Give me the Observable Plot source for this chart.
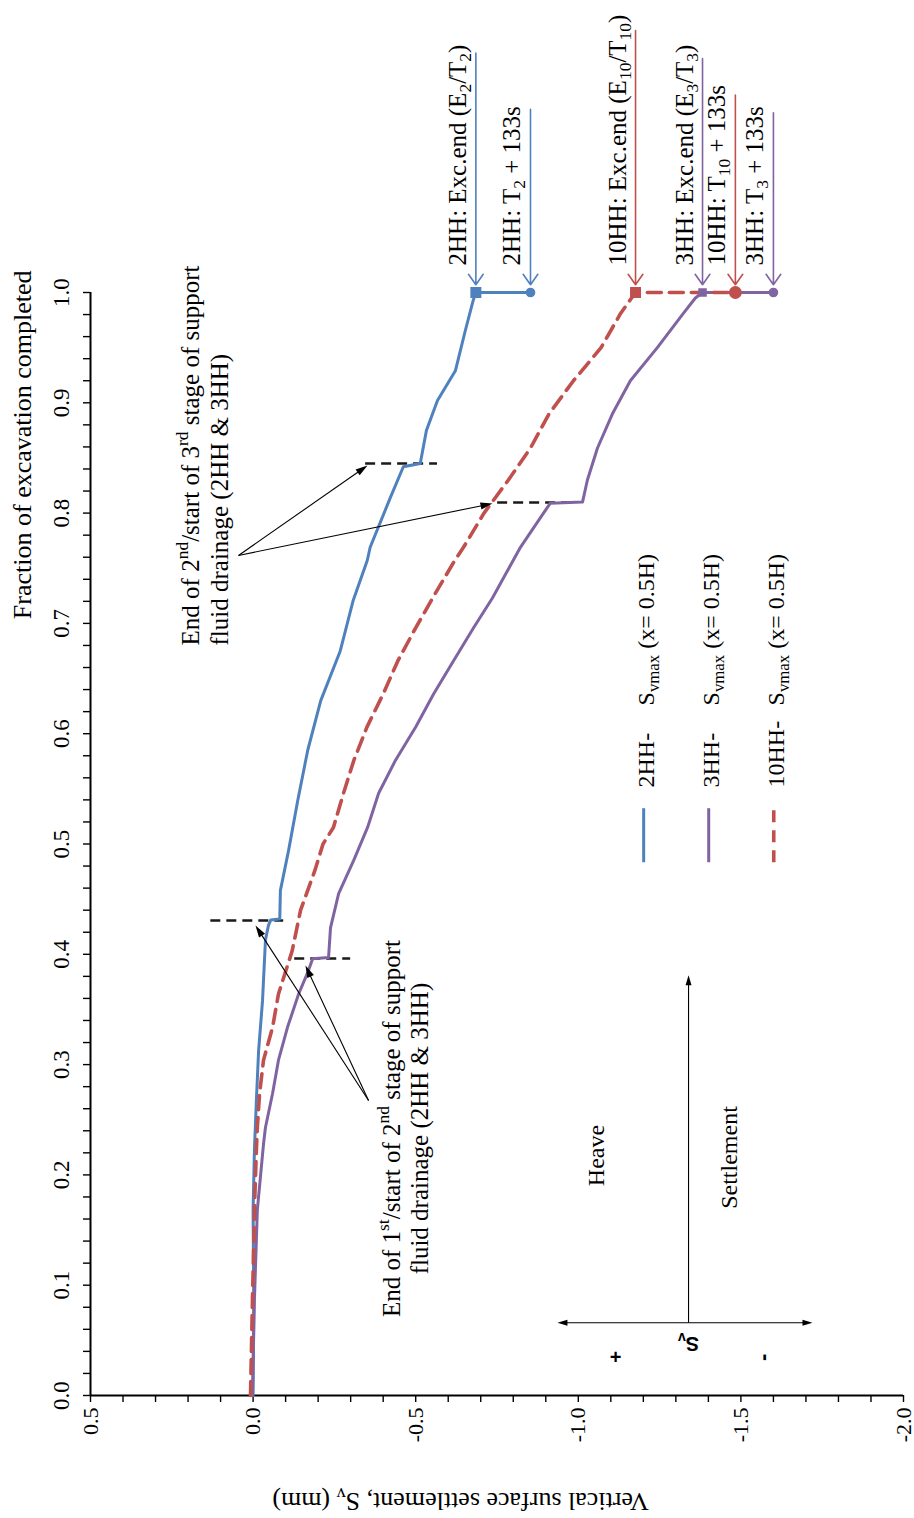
<!DOCTYPE html>
<html><head><meta charset="utf-8">
<script src="https://cdn.jsdelivr.net/npm/d3@7"></script>
<script src="https://cdn.jsdelivr.net/npm/@observablehq/plot@0.6"></script>
<style>
html,body{margin:0;padding:0;background:#fff;}
#chart{width:914px;height:1518px;overflow:hidden;}
</style></head>
<body><div id="chart"></div>
<script>
// ---------------- data ----------------
// fraction of excavation completed / vertical surface settlement Sv (mm), x = 0.5H
const frac2HH = [0.000,0.086,0.168,0.222,0.267,0.313,0.358,0.413,0.426,0.431,0.432,0.458,0.494,0.539,0.585,0.630,0.675,0.721,0.757,0.769,0.814,0.842,0.845,0.875,0.902,0.929,0.966,0.993];
const sv2HH   = [0.000,-0.002,0.000,-0.004,-0.010,-0.017,-0.029,-0.038,-0.047,-0.054,-0.082,-0.084,-0.109,-0.137,-0.168,-0.208,-0.268,-0.308,-0.351,-0.360,-0.422,-0.462,-0.514,-0.533,-0.567,-0.622,-0.653,-0.677];
const frac3HH = [0.000,0.086,0.168,0.228,0.243,0.274,0.304,0.334,0.364,0.385,0.396,0.397,0.424,0.455,0.485,0.515,0.546,0.576,0.606,0.636,0.666,0.696,0.723,0.769,0.800,0.809,0.810,0.830,0.859,0.890,0.920,0.950,0.981,0.995];
const sv3HH   = [0.002,-0.004,-0.013,-0.032,-0.038,-0.060,-0.078,-0.106,-0.140,-0.170,-0.183,-0.232,-0.238,-0.263,-0.309,-0.352,-0.386,-0.438,-0.500,-0.555,-0.616,-0.678,-0.736,-0.822,-0.893,-0.914,-1.013,-1.028,-1.059,-1.105,-1.160,-1.243,-1.323,-1.360];
const frac10HH = [0.000,0.086,0.177,0.222,0.243,0.274,0.304,0.334,0.364,0.403,0.440,0.476,0.500,0.515,0.546,0.576,0.606,0.636,0.666,0.696,0.727,0.757,0.769,0.800,0.830,0.859,0.890,0.920,0.950,0.981];
const sv10HH   = [0.008,0.002,-0.005,-0.010,-0.013,-0.020,-0.032,-0.060,-0.078,-0.120,-0.146,-0.190,-0.215,-0.247,-0.278,-0.310,-0.350,-0.400,-0.445,-0.500,-0.560,-0.620,-0.647,-0.710,-0.785,-0.853,-0.910,-0.985,-1.070,-1.130];

const seriesNames  = ["2HH-", "3HH-", "10HH-"];
const seriesColors = ["#4f81bd", "#8064a2", "#c0504d"];
const excEnd  = [-0.685, -1.382, -1.176];   // Sv at excavation end (E/T), fraction = 1
const plus133 = [-0.853, -1.600, -1.483];   // Sv at T + 133 s
const legendText = "S_{vmax} (x= 0.5H)";

// drainage-stage markers: fraction, settlement extent
const drainFrac = [0.4307, 0.3962, 0.845, 0.8096];
const drainFrom = [0.13, -0.128, -0.346, -0.752];
const drainTo   = [-0.094, -0.300, -0.567, -0.986];

// top labels
const topLabels = ["2HH: Exc.end (E_{2}/T_{2})", "2HH: T_{2} + 133s", "10HH: Exc.end (E_{10}/T_{10})",
                   "3HH: Exc.end (E_{3}/T_{3})", "10HH: T_{10} + 133s", "3HH: T_{3} + 133s"];
const topSeries = [0, 0, 2, 1, 2, 1];
const topIsEnd  = [true, false, true, true, false, false];
const topFrom   = [1.217, 1.166, 1.2375, 1.212, 1.179, 1.163];

const xTicks = d3.range(-20, 6).map(i => i / 10);
const yTicks = d3.range(0, 51).map(i => i / 50);

// ---------------- layout ----------------
const W = 914, H = 1518, mL = 90, mR = 11, mT = 292, mB = 123;
const xDomain = [0.5, -2.0], yDomain = [0, 1];
const xs = Plot.scale({x: {domain: xDomain, range: [mL, W - mR]}});
const ys = Plot.scale({y: {domain: yDomain, range: [H - mB, mT]}});

const signed = d => (d < 0 ? "-" : "") + Math.abs(d).toFixed(1);
const xFmt = d => Math.round(d * 10) % 5 === 0 ? signed(d) : "";
const yFmt = d => Math.round(d * 50) % 5 === 0 ? d.toFixed(1) : "";

// filled arrow heads
const headSym = {draw(ctx, size) { const s = Math.sqrt(size); ctx.moveTo(0, -s / 2); ctx.lineTo(s * 0.3, s / 2); ctx.lineTo(-s * 0.3, s / 2); ctx.closePath(); }};
function headArrows(list, r) {
  const L = Math.sqrt(Math.PI) * r;
  const lines = [], heads = [];
  for (const a of list) {
    const p0 = [xs.apply(a.x1), ys.apply(a.y1)], p1 = [xs.apply(a.x2), ys.apply(a.y2)];
    const dx = p1[0] - p0[0], dy = p1[1] - p0[1], n = Math.hypot(dx, dy), ux = dx / n, uy = dy / n;
    const c = [p1[0] - ux * L / 2, p1[1] - uy * L / 2], e = [p1[0] - ux * L * 0.8, p1[1] - uy * L * 0.8];
    lines.push({x1: a.x1, y1: a.y1, x2: xs.invert(e[0]), y2: ys.invert(e[1])});
    heads.push({x: xs.invert(c[0]), y: ys.invert(c[1]), rot: Math.atan2(ux, -uy) * 180 / Math.PI});
  }
  return [
    Plot.link(lines, {x1: "x1", y1: "y1", x2: "x2", y2: "y2", stroke: "black", strokeWidth: 1.1}),
    Plot.dot(heads, {x: "x", y: "y", rotate: "rot", symbol: headSym, r, fill: "black", stroke: "none"})
  ];
}
const calloutArrows = [
  {x1: -0.355, y1: 0.2675, x2: -0.0074, y2: 0.4261},
  {x1: -0.355, y1: 0.2675, x2: -0.1611, y2: 0.3898},
  {x1: 0.0449, y1: 0.7616, x2: -0.3518, y2: 0.8432},
  {x1: 0.0449, y1: 0.7616, x2: -0.7362, y2: 0.8087}
];
const signArrows = [
  {x1: -1.339, y1: 0.066, x2: -1.339, y2: 0.381},
  {x1: -1.339, y1: 0.066, x2: -0.936, y2: 0.066},
  {x1: -1.339, y1: 0.066, x2: -1.720, y2: 0.066}
];

const series = [[frac2HH, sv2HH], [frac3HH, sv3HH], [frac10HH, sv10HH]];
const marks = [];

// axes
marks.push(Plot.axisX({anchor: "bottom", ticks: xTicks, tickFormat: xFmt, tickSize: 7, tickPadding: 5,
  tickRotate: -90, textAnchor: "end", lineAnchor: "middle", label: null, fontSize: 22, strokeWidth: 1.4}));
marks.push(Plot.axisY({anchor: "left", ticks: yTicks, tickFormat: yFmt, tickSize: 7, tickPadding: 15,
  tickRotate: -90, textAnchor: "middle", lineAnchor: "bottom", label: null, fontSize: 23, strokeWidth: 1.4}));
marks.push(Plot.ruleX([0.5], {stroke: "black", strokeWidth: 2}));
marks.push(Plot.ruleY([0], {stroke: "black", strokeWidth: 2}));
marks.push(Plot.text(["Fraction of excavation completed"], {frameAnchor: "left", y: () => 1.02, dx: -60,
  rotate: -90, textAnchor: "end", lineAnchor: "bottom", fontSize: 26}));
marks.push(Plot.text(["Vertical surface settlement, S_{v} (mm)"], {frameAnchor: "bottom", x: () => -0.638, dy: 97,
  rotate: 180, textAnchor: "middle", lineAnchor: "bottom", fontSize: 26}));

// drainage stage dashed markers
marks.push(Plot.ruleY(drainFrac.map((f, i) => ({f, a: drainFrom[i], b: drainTo[i]})),
  {y: "f", x1: "a", x2: "b", stroke: "#1a1a1a", strokeWidth: 2.6, strokeDasharray: "10,6"}));

// series lines
series.forEach(([fr, sv], k) => {
  const rows = fr.map((f, i) => ({f, s: sv[i]}));
  rows.push({f: 1, s: excEnd[k]}, {f: 1, s: plus133[k]});
  marks.push(Plot.line(rows, {x: "s", y: "f", stroke: seriesColors[k], strokeWidth: k === 2 ? 3.6 : 3,
    strokeDasharray: k === 2 ? "14,8" : null, strokeLinejoin: "round"}));
});
// markers at excavation end / +133 s
[2, 1, 0].forEach(k => {
  marks.push(Plot.dot([k], {x: () => excEnd[k], y: () => 1, symbol: "square", r: k === 1 ? 4.8 : 6.2, fill: seriesColors[k]}));
  marks.push(Plot.dot([k], {x: () => plus133[k], y: () => 1, symbol: "circle", r: k === 2 ? 6.5 : 4.8, fill: seriesColors[k]}));
});

// top vertical arrows and labels
const topRows = topLabels.map((t, i) => ({t, k: topSeries[i], x: topIsEnd[i] ? excEnd[topSeries[i]] : plus133[topSeries[i]], y1: topFrom[i]}));
topRows.forEach(d => {
  marks.push(Plot.arrow([d], {x: "x", y1: "y1", y2: () => 1.007, stroke: seriesColors[d.k], strokeWidth: 1.6, headLength: 12, headAngle: 70}));
});
marks.push(Plot.text(topRows, {x: "x", y: () => 1.0245, text: "t", rotate: -90, textAnchor: "start", lineAnchor: "bottom", dx: -10, fontSize: 25}));

// callouts
marks.push(Plot.text(["End of 2^{nd}/start of 3^{rd} stage of support\nfluid drainage (2HH & 3HH)"],
  {x: () => 0.0787, y: () => 0.68, rotate: -90, textAnchor: "start", lineAnchor: "bottom", lineHeight: 1.15, fontSize: 25}));
marks.push(Plot.text(["End of 1^{st}/start of 2^{nd} stage of support\nfluid drainage (2HH & 3HH)"],
  {x: () => -0.539, y: () => 0.242, rotate: -90, textAnchor: "middle", lineAnchor: "bottom", lineHeight: 1.15, fontSize: 25}));
marks.push(...headArrows(calloutArrows, 6.8));

// legend
seriesNames.forEach((name, k) => {
  const lx = -1.201 - 0.2 * k;
  marks.push(Plot.ruleX([lx], {y1: 0.483, y2: 0.532, stroke: seriesColors[k], strokeWidth: k === 2 ? 3.6 : 3, strokeDasharray: k === 2 ? "12,8" : null}));
  marks.push(Plot.text([name], {x: () => lx, y: () => 0.5512, dx: 10, rotate: -90, textAnchor: "start", lineAnchor: "bottom", fontSize: 24}));
  marks.push(Plot.text([legendText], {x: () => lx, y: () => 0.6256, dx: 10, rotate: -90, textAnchor: "start", lineAnchor: "bottom", fontSize: 24}));
});

// heave / settlement sign diagram
marks.push(Plot.text(["Heave"], {x: () => -1.0775, y: () => 0.2176, rotate: -90, textAnchor: "middle", lineAnchor: "bottom", fontSize: 24}));
marks.push(Plot.text(["Settlement"], {x: () => -1.4895, y: () => 0.2158, rotate: -90, textAnchor: "middle", lineAnchor: "bottom", fontSize: 24}));
marks.push(...headArrows(signArrows, 5.6));
marks.push(Plot.text(["S_{v}"], {x: () => -1.339, y: () => 0.047, rotate: 180, textAnchor: "middle", lineAnchor: "middle", fontSize: 20, fontWeight: "bold", fontFamily: "'Liberation Sans', Arial, sans-serif"}));
marks.push(Plot.text(["+"], {x: () => -1.115, y: () => 0.0345, textAnchor: "middle", lineAnchor: "middle", fontSize: 20, fontWeight: "bold", fontFamily: "'Liberation Sans', Arial, sans-serif"}));
marks.push(Plot.text(["-"], {x: () => -1.567, y: () => 0.0345, rotate: -90, textAnchor: "middle", lineAnchor: "middle", fontSize: 22, fontWeight: "bold", fontFamily: "'Liberation Sans', Arial, sans-serif"}));

const svg = Plot.plot({
  width: W, height: H, marginLeft: mL, marginRight: mR, marginTop: mT, marginBottom: mB,
  x: {domain: xDomain}, y: {domain: yDomain},
  style: {fontFamily: "'Liberation Serif', 'Times New Roman', serif", fontSize: "24px", background: "white", color: "black", overflow: "visible"},
  marks
});

// sub/superscript markup: _{..} and ^{..}
d3.select(svg).selectAll("text, tspan").each(function () {
  if (this.childNodes.length !== 1 || this.firstChild.nodeType !== 3) return;
  const t = this.textContent;
  if (!/[_^]\{/.test(t)) return;
  this.textContent = "";
  const re = /([_^])\{([^}]*)\}/g;
  let last = 0, m;
  while ((m = re.exec(t))) {
    if (m.index > last) this.appendChild(document.createTextNode(t.slice(last, m.index)));
    const ts = document.createElementNS("http://www.w3.org/2000/svg", "tspan");
    ts.setAttribute("baseline-shift", m[1] === "_" ? "-0.3em" : "0.62em");
    ts.setAttribute("font-size", "70%");
    ts.textContent = m[2];
    this.appendChild(ts);
    last = re.lastIndex;
  }
  if (last < t.length) this.appendChild(document.createTextNode(t.slice(last)));
});

document.getElementById("chart").appendChild(svg);
</script>
</body></html>
